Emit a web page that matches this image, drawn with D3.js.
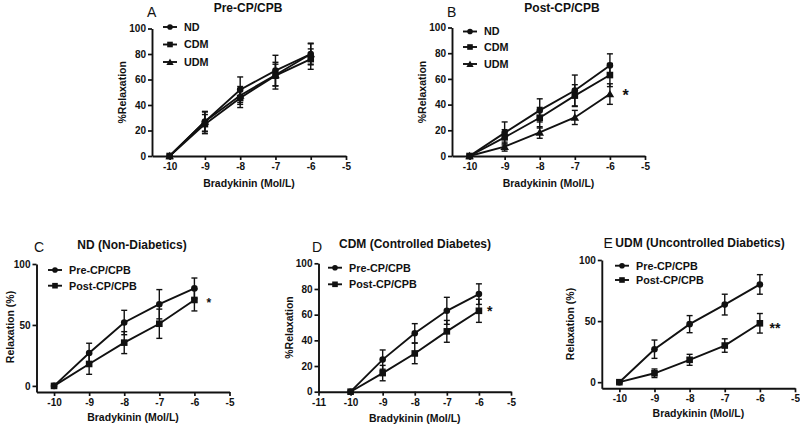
<!DOCTYPE html>
<html><head><meta charset="utf-8">
<script src="https://cdn.jsdelivr.net/npm/d3@7"></script>
<style>
body{margin:0;background:#fff}
svg{display:block}
text{font-family:Arial,"Liberation Sans",sans-serif;fill:#111}
</style>
</head><body>
<svg id="chart" width="800" height="426"></svg>
<script>
// ---------- data ----------
const doses = [-10, -9, -8, -7, -6];
const preND   = [0, 27, 52, 67, 80];
const preNDErr = [0, 8, 10, 12, 8.5];
const preCDM  = [0, 25, 45.5, 63, 76];
const preCDMErr = [0, 7.5, 7.5, 10.5, 8];
const preUDM  = [0, 27, 47.5, 63.5, 80];
const preUDMErr = [0, 7.5, 7, 8.5, 8];
const postND  = [0, 18, 35.5, 51, 70.5];
const postNDErr = [0, 8.5, 9, 12, 9];
const postCDM = [0, 14.5, 29.8, 47, 63];
const postCDMErr = [0, 6, 8, 8.5, 9];
const postUDM = [0, 7.3, 18.3, 30, 48.2];
const postUDMErr = [0, 3.5, 4.5, 5.5, 8];
const xTicks10 = [-10, -9, -8, -7, -6, -5];
const xTicks11 = [-11, -10, -9, -8, -7, -6, -5];
const yTicks20 = [0, 20, 40, 60, 80, 100];
const yTicks50 = [0, 50, 100];

// ---------- layout ----------
const panels = [
  {letter:"A", title:"Pre-CP/CPB", ytitle:"%Relaxation",
   x0:152, x1:346, y0:156, y1:28.5, xd:[-10.5,-5], yd:[0,100], xt:xTicks10, yt:yTicks20,
   letterPos:[147,17.3], titlePos:[248,12], ytPos:[122.7,92.3], xtPos:187, xtlY:171,
   legend:{x:170, rows:[27,44.5,62]},
   series:[{name:"ND",v:preND,e:preNDErr,m:"circle"},{name:"CDM",v:preCDM,e:preCDMErr,m:"square"},{name:"UDM",v:preUDM,e:preUDMErr,m:"triangle"}],
   star:null},
  {letter:"B", title:"Post-CP/CPB", ytitle:"%Relaxation",
   x0:452, x1:645, y0:156, y1:27.5, xd:[-10.5,-5], yd:[0,100], xt:xTicks10, yt:yTicks20,
   letterPos:[447,16.5], titlePos:[562,12], ytPos:[422.7,92], xtPos:187, xtlY:171,
   legend:{x:470, rows:[31.5,47,64]},
   series:[{name:"ND",v:postND,e:postNDErr,m:"circle"},{name:"CDM",v:postCDM,e:postCDMErr,m:"square"},{name:"UDM",v:postUDM,e:postUDMErr,m:"triangle"}],
   star:{t:"*", x:-5.55, y:50, size:16}},
  {letter:"C", title:"ND (Non-Diabetics)", ytitle:"Relaxation (%)",
   x0:36.5, x1:229.5, y0:392, y1:264, xd:[-10.5,-5], yd:[-5,100], xt:xTicks10, yt:yTicks50,
   letterPos:[34,252], titlePos:[132,249], ytPos:[10,327], xtPos:421, xtlY:407,
   legend:{x:55, rows:[270,285.7]},
   series:[{name:"Pre-CP/CPB",v:preND,e:preNDErr,m:"circle"},{name:"Post-CP/CPB",v:postND,e:postNDErr,m:"square"}],
   star:{t:"*", x:-5.59, y:70.5, size:12}},
  {letter:"D", title:"CDM (Controlled Diabetes)", ytitle:"%Relaxation",
   x0:318.5, x1:511, y0:391.7, y1:263.3, xd:[-11,-5], yd:[0,100], xt:xTicks11, yt:yTicks20,
   letterPos:[312,252], titlePos:[415,248], ytPos:[289.3,327.5], xtPos:422, xtlY:407,
   legend:{x:335, rows:[267.7,284.3]},
   series:[{name:"Pre-CP/CPB",v:preCDM,e:preCDMErr,m:"circle"},{name:"Post-CP/CPB",v:postCDM,e:postCDMErr,m:"square"}],
   star:{t:"*", x:-5.66, y:65, size:14}},
  {letter:"E", title:"UDM (Uncontrolled Diabetics)", ytitle:"Relaxation (%)",
   x0:601.8, x1:795, y0:388.3, y1:260, xd:[-10.5,-5], yd:[-5,100], xt:xTicks10, yt:yTicks50,
   letterPos:[603.5,248], titlePos:[700,247], ytPos:[570,324], xtPos:416.5, xtlY:403,
   legend:{x:622, rows:[265.7,280]},
   series:[{name:"Pre-CP/CPB",v:preUDM,e:preUDMErr,m:"circle"},{name:"Post-CP/CPB",v:postUDM,e:postUDMErr,m:"square"}],
   star:{t:"**", x:-5.57, y:46.9, size:14}}
];

const svg = d3.select("#chart");
const ink = "#111";

function drawMarker(g, type, cx, cy, scale=1) {
  if (type === "circle") {
    g.append("circle").attr("cx", cx).attr("cy", cy).attr("r", 3.3*scale).attr("fill", ink);
  } else if (type === "square") {
    const s = 6.6*scale;
    g.append("rect").attr("x", cx - s/2).attr("y", cy - s/2).attr("width", s).attr("height", s).attr("fill", ink);
  } else {
    const sym = d3.symbol().type(d3.symbolTriangle).size(32*scale*scale);
    g.append("path").attr("d", sym()).attr("transform", `translate(${cx},${cy + 0.8})`).attr("fill", ink);
  }
}

panels.forEach(p => {
  const g = svg.append("g");
  const x = d3.scaleLinear().domain(p.xd).range([p.x0, p.x1]);
  const y = d3.scaleLinear().domain(p.yd).range([p.y0, p.y1]);

  // axes
  const ya = g.append("g").attr("transform", `translate(${p.x0},0)`)
    .call(d3.axisLeft(y).tickValues(p.yt).tickSize(4).tickSizeOuter(0).tickPadding(2).tickFormat(d3.format("d")));
  const xa = g.append("g").attr("transform", `translate(0,${p.y0})`)
    .call(d3.axisBottom(x).tickValues(p.xt).tickSize(4).tickSizeOuter(0).tickPadding(3).tickFormat(d => d3.format("d")(d).replace("−","-")));
  [ya, xa].forEach(a => {
    a.select(".domain").attr("stroke", ink).attr("stroke-width", 1.9);
    a.selectAll(".tick line").attr("stroke", ink).attr("stroke-width", 1.7);
    a.selectAll(".tick text").attr("font-size", 10).attr("font-weight", "bold").attr("fill", ink)
      .style("font-family", "Arial, 'Liberation Sans', sans-serif");
  });

  // series
  p.series.forEach(s => {
    const pts = doses.map((d, i) => ({d, v: s.v[i], e: s.e[i]}));
    // error bars
    pts.filter(q => q.e > 0).forEach(q => {
      const cx = x(q.d);
      g.append("line").attr("x1", cx).attr("x2", cx).attr("y1", y(q.v - q.e)).attr("y2", y(q.v + q.e))
        .attr("stroke", ink).attr("stroke-width", 1.4);
      [q.v - q.e, q.v + q.e].forEach(val => {
        g.append("line").attr("x1", cx - 3).attr("x2", cx + 3).attr("y1", y(val)).attr("y2", y(val))
          .attr("stroke", ink).attr("stroke-width", 1.4);
      });
    });
    g.append("path").datum(pts)
      .attr("d", d3.line().x(q => x(q.d)).y(q => y(q.v)))
      .attr("fill", "none").attr("stroke", ink).attr("stroke-width", 1.9);
    pts.forEach(q => drawMarker(g, s.m, x(q.d), y(q.v)));
  });

  // legend
  p.series.forEach((s, i) => {
    const ly = p.legend.rows[i];
    g.append("line").attr("x1", p.legend.x - 7).attr("x2", p.legend.x + 7).attr("y1", ly).attr("y2", ly)
      .attr("stroke", ink).attr("stroke-width", 1.9);
    drawMarker(g, s.m, p.legend.x, ly, 0.85);
    g.append("text").attr("x", p.legend.x + 14).attr("y", ly + 3.9)
      .attr("font-size", 10.8).attr("font-weight", "bold").text(s.name);
  });

  // titles
  g.append("text").attr("x", p.letterPos[0]).attr("y", p.letterPos[1]).attr("font-size", 14).text(p.letter);
  g.append("text").attr("x", p.titlePos[0]).attr("y", p.titlePos[1]).attr("text-anchor", "middle")
    .attr("font-size", 12).attr("font-weight", "bold").text(p.title);
  g.append("text").attr("x", (p.x0 + p.x1) / 2).attr("y", p.xtPos).attr("text-anchor", "middle")
    .attr("font-size", 10.5).attr("font-weight", "bold").text("Bradykinin (Mol/L)");
  g.append("text").attr("transform", `translate(${p.ytPos[0]},${p.ytPos[1]}) rotate(-90)`)
    .attr("dy", "0.35em").attr("text-anchor", "middle")
    .attr("font-size", 10.5).attr("font-weight", "bold").text(p.ytitle);

  if (p.star) {
    g.append("text").attr("x", x(p.star.x)).attr("y", y(p.star.y) + p.star.size * 0.58)
      .attr("text-anchor", "middle").attr("font-size", p.star.size).attr("font-weight", "bold").text(p.star.t);
  }
});
</script>
</body></html>
